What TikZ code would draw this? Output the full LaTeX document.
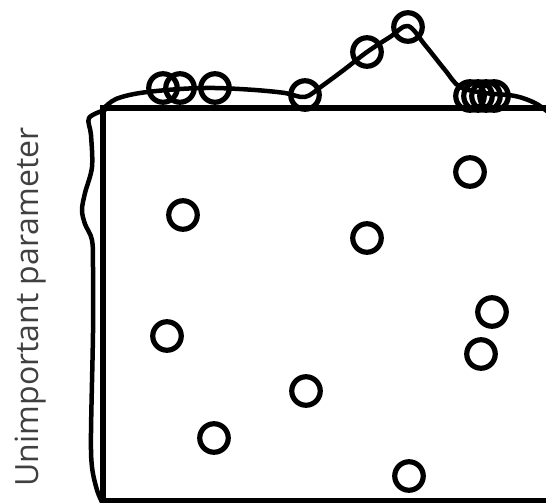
\documentclass[tikz,border=0pt]{standalone}
\usepackage{fontspec}
\setmainfont{Open Sans}
\begin{document}
\begin{tikzpicture}[x=1pt,y=-1pt,
  pt/.style={circle,draw=black,line width=5.2pt,minimum size=28.5pt,inner sep=0pt},
  edge/.style={line width=6.5pt},
  dens/.style={line width=4.5pt,line cap=round,line join=round}]
\useasboundingbox (0,0) rectangle (546,503);
\begin{scope}
\clip (0,0) rectangle (546,503);
% box
\coordinate (tl) at (103,108);
\coordinate (tr) at (560,108);
\coordinate (bl) at (103,501);
\coordinate (br) at (560,501);
\draw[edge] (tr) -- (tl) -- (bl) -- (br);
% top density
\draw[dens] plot[smooth,tension=0.55] coordinates {(104,108) (116,99) (140,93) (180,89) (215,88) (255,90) (285,93) (305,97) (322,86) (345,69) (367,52) (390,37) (408,26) (425,45) (445,70) (460,87) (485,93) (515,96) (535,103) (548,112)};
% left density
\draw[dens] plot[smooth,tension=0.55] coordinates {(105,110) (89,118) (91,135) (92,167) (85,193) (82,210) (85,224) (92,240) (93,267) (93,333) (91,433) (92,467) (97,490) (102,502)};
\end{scope}
% marginal samples
\node[pt] (m1) at (163,88) {};
\node[pt] (m2) at (180,88) {};
\node[pt] (m3) at (215,88) {};
\node[pt] (m4) at (305,95) {};
\node[pt] (m5) at (367,52) {};
\node[pt] (m6) at (408,27) {};
\node[pt] (m7) at (470,96) {};
\node[pt] (m8) at (478,96) {};
\node[pt] (m9) at (486,96) {};
\node[pt] (m10) at (494,96) {};
% samples
\node[pt] (s1) at (183,215) {};
\node[pt] (s2) at (367,238) {};
\node[pt] (s3) at (470,172) {};
\node[pt] (s4) at (492,312) {};
\node[pt] (s5) at (481,354) {};
\node[pt] (s6) at (167,336) {};
\node[pt] (s7) at (306,391) {};
\node[pt] (s8) at (214,438) {};
\node[pt] (s9) at (409,476) {};
% label
\node[rotate=90,text=black!75,font=\fontsize{32}{32}\selectfont,inner sep=0pt] (lab) at (31,307) {Unimportant parameter};
\end{tikzpicture}
\end{document}
